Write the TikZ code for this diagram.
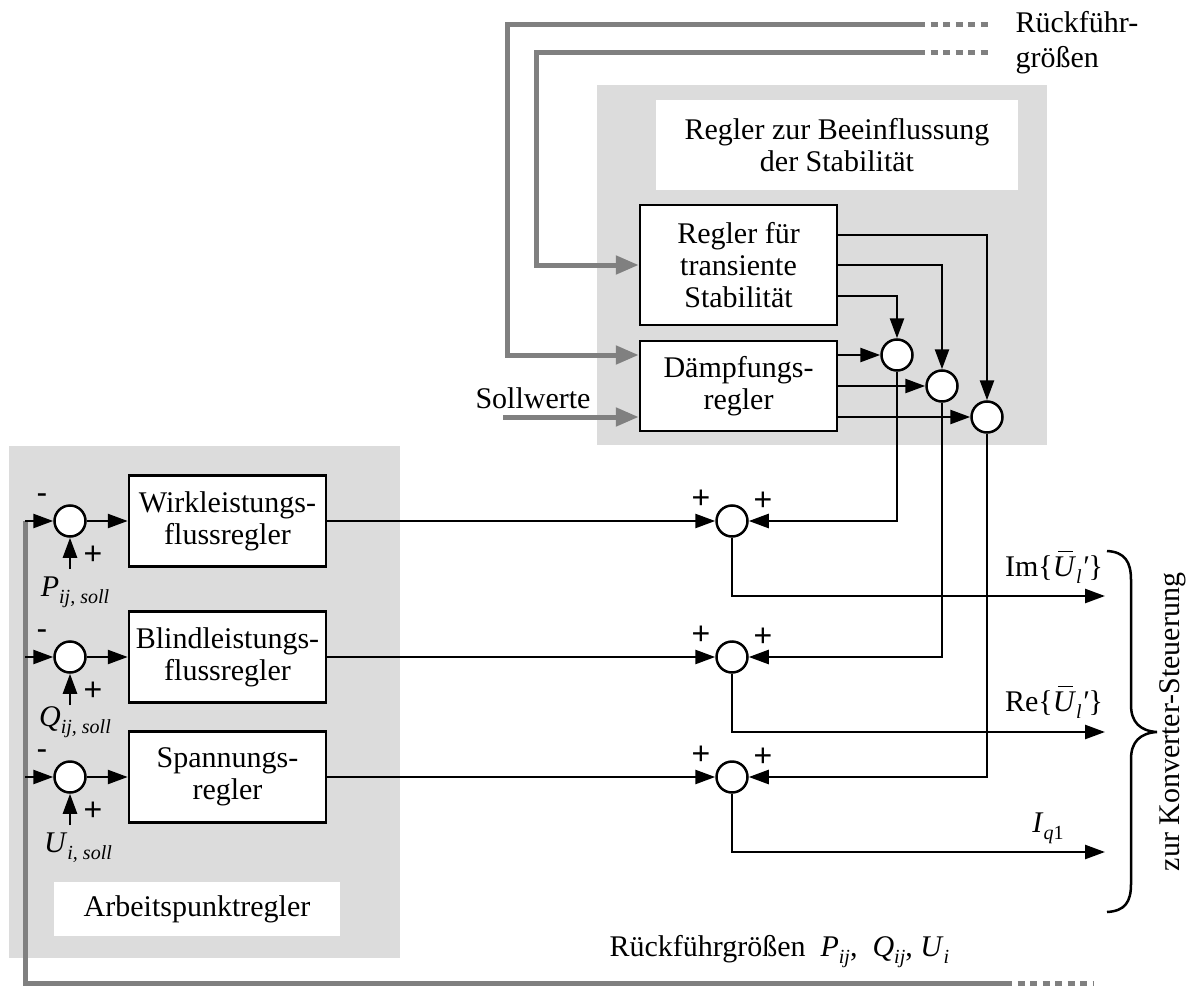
\documentclass[tikz,border=0pt]{standalone}
\usepackage{fontspec}
\setmainfont{Liberation Serif}
\newfontfamily\signfont{Liberation Sans}
\usetikzlibrary{arrows.meta}
\definecolor{panelgray}{RGB}{220,220,220}
\definecolor{fbgray}{RGB}{128,128,128}
% lowered italic index
\newcommand\lsub[1]{\raisebox{-7pt}{\fontsize{20}{20}\selectfont\itshape #1}}
% italic U with an overbar
\newcommand\barU{\makebox[0pt][l]{\hspace{5pt}\rule[24pt]{15pt}{1.5pt}}\textit{U}}
\begin{document}
\begin{tikzpicture}[x=1pt,y=-1pt,
  font=\fontsize{30}{32}\selectfont,
  titlebox/.style={fill=white,align=center,inner sep=0pt},
  ctrl/.style={draw,line width=2.5pt,fill=white,align=center,inner sep=0pt,minimum width=197pt},
  sumc/.style={circle,draw,line width=2.5pt,fill=white,minimum size=31pt,inner sep=0pt},
  sig/.style={line width=2.5pt,-{Triangle[length=20pt,width=14pt]}},
  fb/.style={line width=5pt,draw=fbgray},
  fbarr/.style={fb,-{Triangle[length=23pt,width=18pt]},fbgray},
  dotline/.style={fb,dash pattern=on 7pt off 5.5pt},
  signlbl/.style={font=\signfont\fontsize{32}{32}\selectfont,inner sep=0pt}]
\useasboundingbox (0,0) rectangle (1196,987);

% grey panels
\fill[panelgray] (597,85) rectangle (1047,445);
\fill[panelgray] (9,446) rectangle (400,958);
\node[titlebox,minimum width=362pt,minimum height=90pt] (ttl) at (837,145) {Regler zur Beeinflussung\\der Stabilität};
\node[titlebox,minimum width=286pt,minimum height=54pt] (apr) at (197,909) {Arbeitspunktregler};

% controller blocks
\node[ctrl,minimum height=120pt] (reg) at (738.5,265) {Regler für\\transiente\\Stabilität};
\node[ctrl,minimum height=90pt] (dmp) at (738.5,386) {Dämpfungs-\\regler};
\node[ctrl,minimum height=91pt] (wirk) at (227.5,521) {Wirkleistungs-\\flussregler};
\node[ctrl,minimum height=91pt] (blind) at (227.5,657) {Blindleistungs-\\flussregler};
\node[ctrl,minimum height=91pt] (spann) at (227.5,777) {Spannungs-\\regler};

% summing points
\node[sumc] (c1) at (897,355) {};
\node[sumc] (c2) at (942,386) {};
\node[sumc] (c3) at (987,417) {};
\node[sumc] (s1) at (732,521) {};
\node[sumc] (s2) at (732,657) {};
\node[sumc] (s3) at (732,777) {};
\node[sumc] (l1) at (70,521) {};
\node[sumc] (l2) at (70,657) {};
\node[sumc] (l3) at (70,777) {};

% helper points
\coordinate (fbA) at (25,521);
\coordinate (fbB) at (25,657);
\coordinate (fbC) at (25,777);
\coordinate (fbD) at (25,983);
\coordinate (fbE) at (1005,983);
\coordinate (fbF) at (1093,983);
\coordinate (tA) at (918,25);
\coordinate (tAe) at (992,25);
\coordinate (tAc) at (507,25);
\coordinate (tB) at (918,53);
\coordinate (tBe) at (992,53);
\coordinate (tBc) at (536,53);
\coordinate (sw) at (503,417);
\coordinate (o1) at (1105,596);
\coordinate (o2) at (1105,732);
\coordinate (o3) at (1105,852);
\coordinate (p1) at (70,569);
\coordinate (p2) at (70,705);
\coordinate (p3) at (70,825);

% feedback quantities (grey)
\draw[fb] (fbA) -- (fbD) -- (fbE);
\draw[dotline] (fbE) -- (fbF);
\draw[fbarr] (tA) -- (tAc) |- ([yshift=31pt]dmp.west);
\draw[dotline] (tA) -- (tAe);
\draw[fbarr] (tB) -- (tBc) |- (reg.west);
\draw[dotline] (tB) -- (tBe);
\draw[fbarr] (sw) -- ([yshift=-31pt]dmp.west);

% stability controller outputs
\draw[sig] ([yshift=30pt]reg.east) -| (c3.north);
\draw[sig] (reg.east) -| (c2.north);
\draw[sig] ([yshift=-31pt]reg.east) -| (c1.north);
\draw[sig] (dmp.east |- c1) -- (c1.west);
\draw[sig] (dmp.east |- c2) -- (c2.west);
\draw[sig] (dmp.east |- c3) -- (c3.west);
\draw[sig] (c1.south) |- (s1.east);
\draw[sig] (c2.south) |- (s2.east);
\draw[sig] (c3.south) |- (s3.east);

% operating point controllers
\draw[sig] (fbA) -- (l1.west);
\draw[sig] (fbB) -- (l2.west);
\draw[sig] (fbC) -- (l3.west);
\draw[sig] (p1) -- (l1.south);
\draw[sig] (p2) -- (l2.south);
\draw[sig] (p3) -- (l3.south);
\draw[sig] (l1.east) -- (wirk.west);
\draw[sig] (l2.east) -- (blind.west);
\draw[sig] (l3.east) -- (spann.west);
\draw[sig] (wirk.east) -- (s1.west);
\draw[sig] (blind.east) -- (s2.west);
\draw[sig] (spann.east) -- (s3.west);
\draw[sig] (s1.south) |- (o1);
\draw[sig] (s2.south) |- (o2);
\draw[sig] (s3.south) |- (o3);

% signs
\foreach \n in {l1,l2,l3}{
  \node[signlbl] at ([xshift=-28pt,yshift=22pt]\n) {-};
  \node[signlbl] at ([xshift=23pt,yshift=-34pt]\n) {+};
}
\foreach \n in {s1,s2,s3}{
  \node[signlbl] at ([xshift=-31pt,yshift=22pt]\n) {+};
  \node[signlbl] at ([xshift=31pt,yshift=20pt]\n) {+};
}

% labels
\node (lp) at (75,592) {\textit{P}\lsub{ij, soll}};
\node (lq) at (75,722) {\textit{Q}\lsub{ij, soll}};
\node (lu) at (78,848) {\textit{U}\lsub{i, soll}};
\node (sollw) at (533,398) {Sollwerte};
\node[anchor=base west] (rf1) at (1012,33) {Rückführ-};
\node[anchor=base west] (rf2) at (1012,68) {größen};
\node (im) at (1054,567) {Im\{\barU\lsub{l}\textit{′}\}};
\node (re) at (1054,702) {Re\{\barU\lsub{l}\textit{′}\}};
\node (iq) at (1048,828) {\textit{I}\lsub{q\upshape 1}};
\node[anchor=west] (rfb) at (606,952) {Rückführgrößen\ \ \textit{P}\lsub{ij},\ \ \textit{Q}\lsub{ij}, \textit{U}\lsub{i}};

% brace to the converter control
\draw[line width=2.5pt] (1107,551) .. controls (1125,552) and (1131,562) .. (1131,580)
  -- (1131,705) .. controls (1131,722) and (1140,731) .. (1157,732)
  .. controls (1140,733) and (1131,742) .. (1131,759)
  -- (1131,884) .. controls (1131,902) and (1125,911) .. (1107,912);
\node[rotate=90] (konv) at (1173,722) {zur Konverter-Steuerung};
\end{tikzpicture}
\end{document}
